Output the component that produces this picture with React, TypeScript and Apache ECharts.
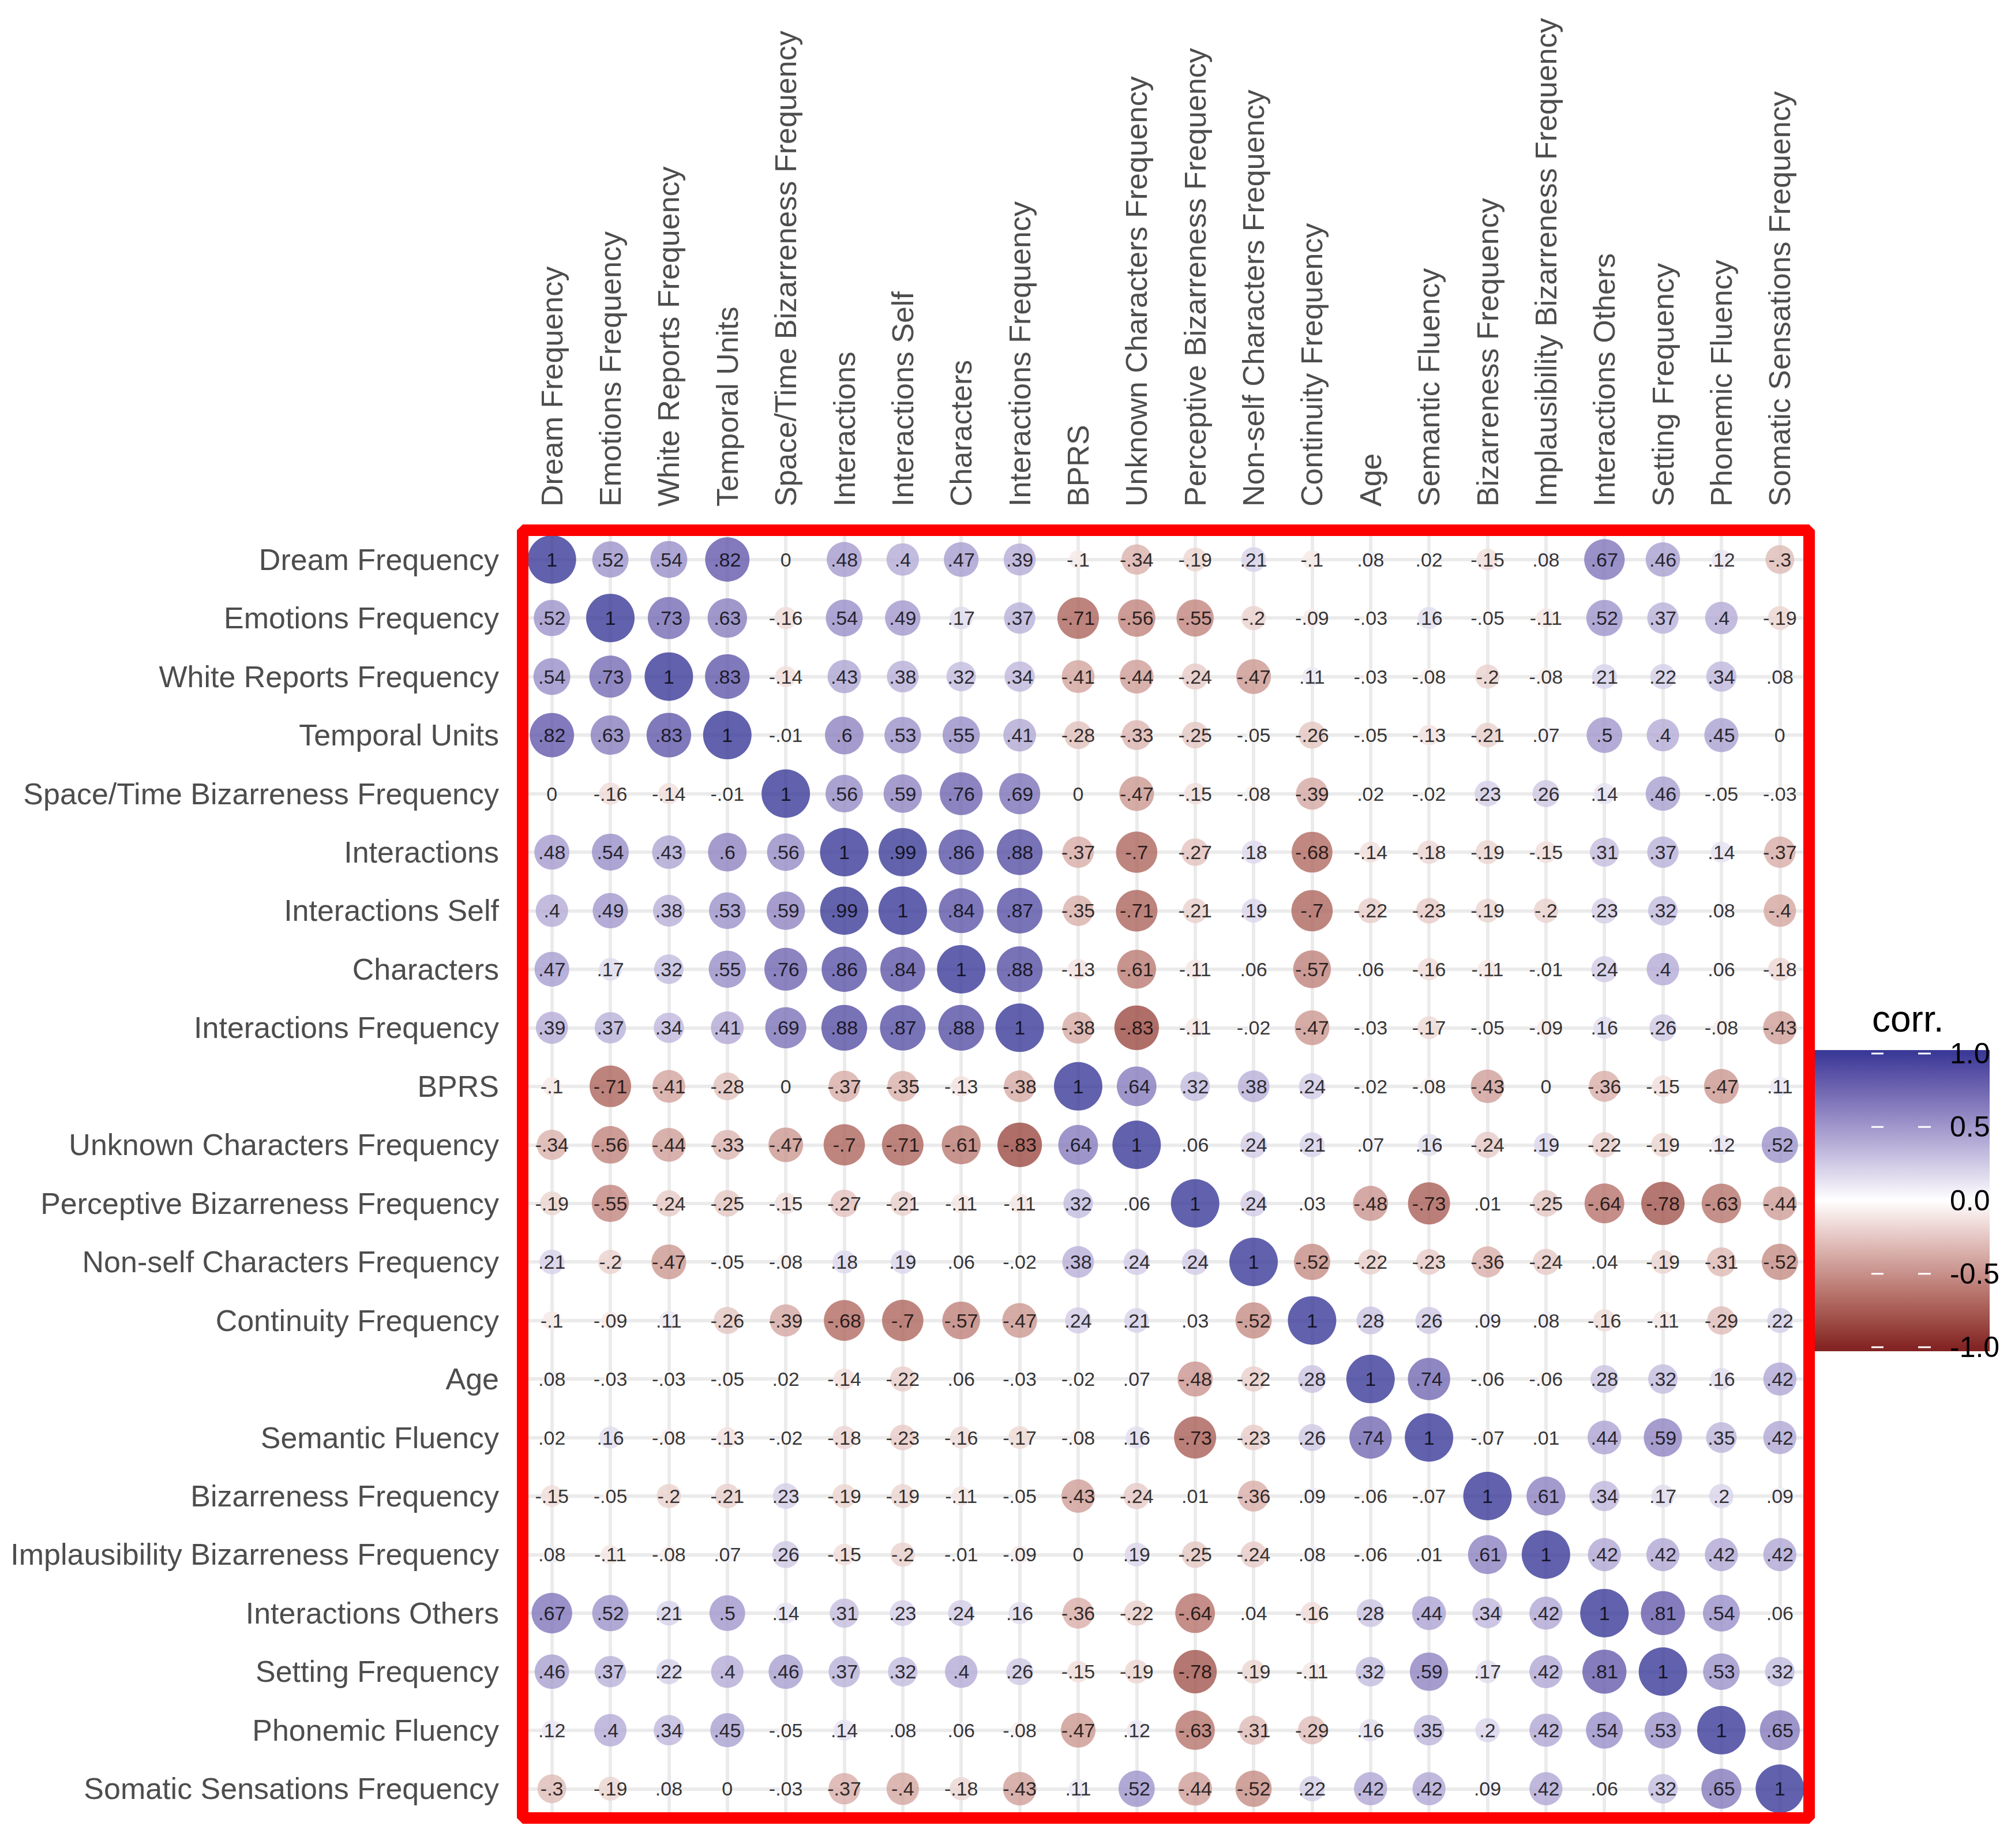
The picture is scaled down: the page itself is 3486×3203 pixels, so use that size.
import React, { useEffect, useRef } from "react";
import * as echarts from "echarts";

// ---------- DATA ----------
const variables: string[] = [
  "Dream Frequency",
  "Emotions Frequency",
  "White Reports Frequency",
  "Temporal Units",
  "Space/Time Bizarreness Frequency",
  "Interactions",
  "Interactions Self",
  "Characters",
  "Interactions Frequency",
  "BPRS",
  "Unknown Characters Frequency",
  "Perceptive Bizarreness Frequency",
  "Non-self Characters Frequency",
  "Continuity Frequency",
  "Age",
  "Semantic Fluency",
  "Bizarreness Frequency",
  "Implausibility Bizarreness Frequency",
  "Interactions Others",
  "Setting Frequency",
  "Phonemic Fluency",
  "Somatic Sensations Frequency",
];

// correlation matrix, one row per variable (same order as `variables`)
const corrMatrix: number[][] = [
  [1, 0.52, 0.54, 0.82, 0, 0.48, 0.4, 0.47, 0.39, -0.1, -0.34, -0.19, 0.21, -0.1, 0.08, 0.02, -0.15, 0.08, 0.67, 0.46, 0.12, -0.3],
  [0.52, 1, 0.73, 0.63, -0.16, 0.54, 0.49, 0.17, 0.37, -0.71, -0.56, -0.55, -0.2, -0.09, -0.03, 0.16, -0.05, -0.11, 0.52, 0.37, 0.4, -0.19],
  [0.54, 0.73, 1, 0.83, -0.14, 0.43, 0.38, 0.32, 0.34, -0.41, -0.44, -0.24, -0.47, 0.11, -0.03, -0.08, -0.2, -0.08, 0.21, 0.22, 0.34, 0.08],
  [0.82, 0.63, 0.83, 1, -0.01, 0.6, 0.53, 0.55, 0.41, -0.28, -0.33, -0.25, -0.05, -0.26, -0.05, -0.13, -0.21, 0.07, 0.5, 0.4, 0.45, 0],
  [0, -0.16, -0.14, -0.01, 1, 0.56, 0.59, 0.76, 0.69, 0, -0.47, -0.15, -0.08, -0.39, 0.02, -0.02, 0.23, 0.26, 0.14, 0.46, -0.05, -0.03],
  [0.48, 0.54, 0.43, 0.6, 0.56, 1, 0.99, 0.86, 0.88, -0.37, -0.7, -0.27, 0.18, -0.68, -0.14, -0.18, -0.19, -0.15, 0.31, 0.37, 0.14, -0.37],
  [0.4, 0.49, 0.38, 0.53, 0.59, 0.99, 1, 0.84, 0.87, -0.35, -0.71, -0.21, 0.19, -0.7, -0.22, -0.23, -0.19, -0.2, 0.23, 0.32, 0.08, -0.4],
  [0.47, 0.17, 0.32, 0.55, 0.76, 0.86, 0.84, 1, 0.88, -0.13, -0.61, -0.11, 0.06, -0.57, 0.06, -0.16, -0.11, -0.01, 0.24, 0.4, 0.06, -0.18],
  [0.39, 0.37, 0.34, 0.41, 0.69, 0.88, 0.87, 0.88, 1, -0.38, -0.83, -0.11, -0.02, -0.47, -0.03, -0.17, -0.05, -0.09, 0.16, 0.26, -0.08, -0.43],
  [-0.1, -0.71, -0.41, -0.28, 0, -0.37, -0.35, -0.13, -0.38, 1, 0.64, 0.32, 0.38, 0.24, -0.02, -0.08, -0.43, 0, -0.36, -0.15, -0.47, 0.11],
  [-0.34, -0.56, -0.44, -0.33, -0.47, -0.7, -0.71, -0.61, -0.83, 0.64, 1, 0.06, 0.24, 0.21, 0.07, 0.16, -0.24, 0.19, -0.22, -0.19, 0.12, 0.52],
  [-0.19, -0.55, -0.24, -0.25, -0.15, -0.27, -0.21, -0.11, -0.11, 0.32, 0.06, 1, 0.24, 0.03, -0.48, -0.73, 0.01, -0.25, -0.64, -0.78, -0.63, -0.44],
  [0.21, -0.2, -0.47, -0.05, -0.08, 0.18, 0.19, 0.06, -0.02, 0.38, 0.24, 0.24, 1, -0.52, -0.22, -0.23, -0.36, -0.24, 0.04, -0.19, -0.31, -0.52],
  [-0.1, -0.09, 0.11, -0.26, -0.39, -0.68, -0.7, -0.57, -0.47, 0.24, 0.21, 0.03, -0.52, 1, 0.28, 0.26, 0.09, 0.08, -0.16, -0.11, -0.29, 0.22],
  [0.08, -0.03, -0.03, -0.05, 0.02, -0.14, -0.22, 0.06, -0.03, -0.02, 0.07, -0.48, -0.22, 0.28, 1, 0.74, -0.06, -0.06, 0.28, 0.32, 0.16, 0.42],
  [0.02, 0.16, -0.08, -0.13, -0.02, -0.18, -0.23, -0.16, -0.17, -0.08, 0.16, -0.73, -0.23, 0.26, 0.74, 1, -0.07, 0.01, 0.44, 0.59, 0.35, 0.42],
  [-0.15, -0.05, -0.2, -0.21, 0.23, -0.19, -0.19, -0.11, -0.05, -0.43, -0.24, 0.01, -0.36, 0.09, -0.06, -0.07, 1, 0.61, 0.34, 0.17, 0.2, 0.09],
  [0.08, -0.11, -0.08, 0.07, 0.26, -0.15, -0.2, -0.01, -0.09, 0, 0.19, -0.25, -0.24, 0.08, -0.06, 0.01, 0.61, 1, 0.42, 0.42, 0.42, 0.42],
  [0.67, 0.52, 0.21, 0.5, 0.14, 0.31, 0.23, 0.24, 0.16, -0.36, -0.22, -0.64, 0.04, -0.16, 0.28, 0.44, 0.34, 0.42, 1, 0.81, 0.54, 0.06],
  [0.46, 0.37, 0.22, 0.4, 0.46, 0.37, 0.32, 0.4, 0.26, -0.15, -0.19, -0.78, -0.19, -0.11, 0.32, 0.59, 0.17, 0.42, 0.81, 1, 0.53, 0.32],
  [0.12, 0.4, 0.34, 0.45, -0.05, 0.14, 0.08, 0.06, -0.08, -0.47, 0.12, -0.63, -0.31, -0.29, 0.16, 0.35, 0.2, 0.42, 0.54, 0.53, 1, 0.65],
  [-0.3, -0.19, 0.08, 0, -0.03, -0.37, -0.4, -0.18, -0.43, 0.11, 0.52, -0.44, -0.52, 0.22, 0.42, 0.42, 0.09, 0.42, 0.06, 0.32, 0.65, 1],
];

const legendTicks: number[] = [1, 0.5, 0, -0.5, -1];
const legendTitle = "corr.";
const colorLow = "#832424";
const colorMid = "#FFFFFF";
const colorHigh = "#3A3A98";

// ---------- LAYOUT / STYLE ----------
const WIDTH = 3486;
const HEIGHT = 3203;
const FONT = '"Liberation Sans", Arial, Helvetica, sans-serif';
const GRID = { left: 906, top: 919, width: 2230, height: 2232 };
const LEG = {
  x: 3141, y: 1820, w: 308, h: 522,
  topValY: 1826, botValY: 2335,
  tickSegs: [[3244, 3265], [3325, 3347]],
  labelX: 3380, titleX: 3245, titleY: 1766,
};

// ---------- COLOUR (Lab interpolation, like ggplot's gradient2) ----------
function hexToRgb(h: string): number[] {
  const s = h.replace("#", "");
  return [0, 2, 4].map((i) => parseInt(s.slice(i, i + 2), 16));
}
function rgbToLab(rgb: number[]): number[] {
  const lin = rgb.map((c) => {
    const v = c / 255;
    return v <= 0.04045 ? v / 12.92 : Math.pow((v + 0.055) / 1.055, 2.4);
  });
  const [r, g, b] = lin;
  const X = (0.4124564 * r + 0.3575761 * g + 0.1804375 * b) / 0.95047;
  const Y = 0.2126729 * r + 0.7151522 * g + 0.072175 * b;
  const Z = (0.0193339 * r + 0.119192 * g + 0.9503041 * b) / 1.08883;
  const f = (t: number) => (t > 0.008856 ? Math.cbrt(t) : 7.787 * t + 16 / 116);
  const fx = f(X), fy = f(Y), fz = f(Z);
  return [116 * fy - 16, 500 * (fx - fy), 200 * (fy - fz)];
}
function labToHex(lab: number[]): string {
  const [L, a, bb] = lab;
  const fy = (L + 16) / 116;
  const fx = fy + a / 500;
  const fz = fy - bb / 200;
  const inv = (f: number) => {
    const f3 = f * f * f;
    return f3 > 0.008856 ? f3 : (f - 16 / 116) / 7.787;
  };
  const X = inv(fx) * 0.95047, Y = inv(fy), Z = inv(fz) * 1.08883;
  const r = 3.2404542 * X - 1.5371385 * Y - 0.4985314 * Z;
  const g = -0.969266 * X + 1.8760108 * Y + 0.041556 * Z;
  const b = 0.0556434 * X - 0.2040259 * Y + 1.0572252 * Z;
  const gam = (c: number) => {
    const v = c <= 0.0031308 ? 12.92 * c : 1.055 * Math.pow(c, 1 / 2.4) - 0.055;
    return Math.max(0, Math.min(255, Math.round(v * 255)));
  };
  return "#" + [r, g, b].map((c) => gam(c).toString(16).padStart(2, "0")).join("");
}
const labLow = rgbToLab(hexToRgb(colorLow));
const labMid = rgbToLab(hexToRgb(colorMid));
const labHigh = rgbToLab(hexToRgb(colorHigh));
function colorFor(v: number): string {
  const t = Math.min(1, Math.abs(v));
  const end = v >= 0 ? labHigh : labLow;
  return labToHex(labMid.map((m, i) => m + (end[i] - m) * t));
}

const fmtCorr = (v: number) => String(v).replace("0.", ".");

export default function App() {
  const ref = useRef<HTMLDivElement>(null);

  useEffect(() => {
    if (!ref.current) return;
    const chart = echarts.init(ref.current, null, { renderer: "svg" });

    const data: number[][] = [];
    corrMatrix.forEach((row, i) => row.forEach((v, j) => data.push([j, i, v])));

    const scaleColors: string[] = [];
    for (let k = 0; k <= 40; k++) scaleColors.push(colorFor(-1 + k * 0.05));

    // legend colour bar built from the same colour scale
    const legVal = (v: number) =>
      LEG.topValY + ((1 - v) / 2) * (LEG.botValY - LEG.topValY);
    const stops: any[] = [];
    for (let k = 0; k <= 80; k++) {
      const off = k / 80;
      const y = LEG.y + off * LEG.h;
      const v = Math.max(-1, Math.min(1, 1 - (2 * (y - LEG.topValY)) / (LEG.botValY - LEG.topValY)));
      stops.push({ offset: off, color: colorFor(v) });
    }

    const graphics: any[] = [
      {
        type: "rect",
        z: 50,
        shape: { x: LEG.x, y: LEG.y, width: LEG.w, height: LEG.h },
        style: { fill: { type: "linear", x: 0, y: 0, x2: 0, y2: 1, colorStops: stops } },
      },
      {
        type: "text",
        z: 52,
        x: LEG.titleX,
        y: LEG.titleY,
        style: {
          text: legendTitle, fontSize: 64, fontFamily: FONT, fill: "#000000",
          textAlign: "left", textVerticalAlign: "middle",
        },
      },
    ];
    legendTicks.forEach((t) => {
      const y = legVal(t);
      LEG.tickSegs.forEach(([x1, x2]) =>
        graphics.push({
          type: "line",
          z: 51,
          shape: { x1, y1: y, x2, y2: y },
          style: { stroke: "#FFFFFF", lineWidth: 3 },
        })
      );
      graphics.push({
        type: "text",
        z: 52,
        x: LEG.labelX,
        y,
        style: {
          text: t.toFixed(1), fontSize: 50, fontFamily: FONT, fill: "#000000",
          textAlign: "left", textVerticalAlign: "middle",
        },
      });
    });
    // red panel border (drawn on top of the points)
    graphics.push({
      type: "rect",
      z: 100,
      shape: { x: GRID.left, y: GRID.top, width: GRID.width, height: GRID.height },
      style: { fill: null, stroke: "#FF0000", lineWidth: 20, lineJoin: "bevel" },
    });

    const n = variables.length;
    const axisCommon = {
      type: "value" as const,
      min: -0.5,
      max: n - 0.5,
      splitNumber: n,
      minInterval: 1,
      maxInterval: 1,
      axisLine: { show: false },
      axisTick: { show: false },
      splitLine: { show: true, lineStyle: { color: "#EBEBEB", width: 6 } },
    };
    const labelFmt = (v: number) =>
      Number.isInteger(v) && v >= 0 && v < n ? variables[v] : "";

    chart.setOption({
      animation: false,
      backgroundColor: "#FFFFFF",
      grid: { ...GRID, containLabel: false },
      xAxis: {
        ...axisCommon,
        position: "top",
        axisLabel: {
          rotate: 90, margin: 41, fontSize: 52, color: "#4D4D4D", fontFamily: FONT,
          formatter: labelFmt, showMinLabel: true, showMaxLabel: true,
        },
      },
      yAxis: {
        ...axisCommon,
        inverse: true,
        axisLabel: {
          margin: 41, fontSize: 52, color: "#4D4D4D", fontFamily: FONT,
          formatter: labelFmt,
        },
      },
      visualMap: {
        type: "continuous",
        show: false,
        min: -1,
        max: 1,
        dimension: 2,
        seriesIndex: 0,
        inRange: { color: scaleColors },
      },
      series: [
        {
          type: "scatter",
          data,
          symbol: "circle",
          symbolSize: (val: number[]) => 8.3 + 75.7 * Math.sqrt(Math.abs(val[2])),
          silent: true,
          emphasis: { disabled: true },
          label: {
            show: true,
            position: "inside",
            formatter: (p: any) => fmtCorr(p.value[2]),
            fontSize: 34,
            color: "#000000",
            fontFamily: FONT,
            textBorderWidth: 0,
          },
        },
      ],
      graphic: graphics,
    });

    return () => chart.dispose();
  }, []);

  return (
    <div
      ref={ref}
      style={{ position: "absolute", left: 0, top: 0, width: WIDTH, height: HEIGHT }}
    />
  );
}
